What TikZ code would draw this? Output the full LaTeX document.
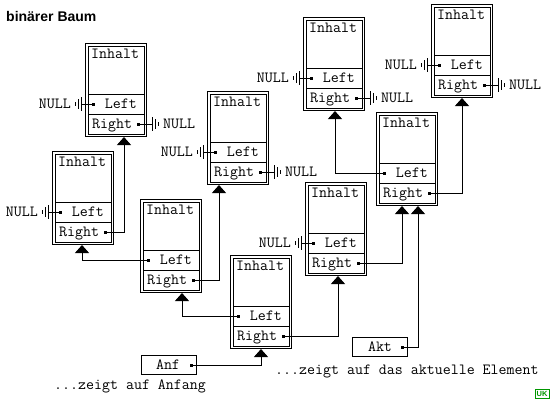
\documentclass[tikz,border=0pt]{standalone}
\usepackage{fontspec}
\setmainfont{Liberation Sans}
\usetikzlibrary{arrows.meta,calc}
\definecolor{ukgreen}{RGB}{0,150,0}
\tikzset{
  rec/.style={draw, double, double distance=1.5pt, line width=1pt,
    minimum width=58.5pt, minimum height=90.5pt, inner sep=0pt, outer sep=1.75pt},
  txt/.style={inner sep=0pt, font=\ttfamily\fontsize{15.5}{17}\selectfont},
  conn/.style={line width=1pt, -{Triangle[width=14pt,length=8pt]}},
  wire/.style={line width=1pt},
  ptrbox/.style={draw, line width=1pt, minimum width=55pt, minimum height=19pt, inner sep=0pt},
}
% record: name, left, top (pixel coordinates, y downwards)
\newcommand\record[3]{%
  \node[rec] (#1) at (#2+31,#3+47) {};
  \draw[wire] (#2+3,#3+51) -- (#2+59,#3+51);
  \draw[wire] (#2+3,#3+71) -- (#2+59,#3+71);
  \node[txt,anchor=base west] (#1-inh) at (#2+6,#3+15) {Inhalt};
  \node[txt,anchor=base east] (#1-lt) at (#2+52,#3+65.5) {Left};
  \node[txt,anchor=base west] (#1-rt) at (#2+7,#3+85.5) {Right};
  \coordinate (#1-l) at (#2+8,#3+61);
  \coordinate (#1-r) at (#2+53,#3+81);
  \fill (#1-l) ++(-1.5,-1.5) rectangle ++(3,3);
  \fill (#1-r) ++(-1.5,-1.5) rectangle ++(3,3);
}
\newcommand\gndL[1]{%
  \coordinate (#1-gl) at ($(#1-l)+(-12,0)$);
  \draw[wire] (#1-l) -- (#1-gl);
  \draw[wire] ($(#1-gl)+(0,-7)$) -- ($(#1-gl)+(0,7)$);
  \draw[wire] ($(#1-gl)+(-3,-5)$) -- ($(#1-gl)+(-3,5)$);
  \draw[wire] ($(#1-gl)+(-6,-2)$) -- ($(#1-gl)+(-6,2)$);
  \node[txt,anchor=base east] (#1-nl) at ($(#1-gl)+(-10,4.5)$) {NULL};
}
\newcommand\gndR[1]{%
  \coordinate (#1-gr) at ($(#1-r)+(14,0)$);
  \draw[wire] (#1-r) -- (#1-gr);
  \draw[wire] ($(#1-gr)+(0,-7)$) -- ($(#1-gr)+(0,7)$);
  \draw[wire] ($(#1-gr)+(3,-5)$) -- ($(#1-gr)+(3,5)$);
  \draw[wire] ($(#1-gr)+(6,-2)$) -- ($(#1-gr)+(6,2)$);
  \node[txt,anchor=base west] (#1-nr) at ($(#1-gr)+(11,4.5)$) {NULL};
}
\begin{document}
\begin{tikzpicture}[x=1pt,y=-1pt]
\useasboundingbox (0,0) rectangle (550,400);
\node[anchor=base west, inner sep=0pt, font=\bfseries\fontsize{14}{16}\selectfont] (title) at (6,21.5) {binärer Baum};

\record{A}{85}{43}
\record{B}{52}{151}
\record{C}{140}{199}
\record{D}{230}{255}
\record{E}{207}{91}
\record{F}{303}{17}
\record{G}{305}{182}
\record{H}{376}{112}
\record{I}{431}{4}

\gndL{A}\gndR{A}
\gndL{B}
\gndL{E}\gndR{E}
\gndL{F}\gndR{F}
\gndL{G}
\gndL{I}\gndR{I}

\draw[conn] (B-r) -| ([xshift=8pt]A.south);
\draw[conn] (C-l) -| ([xshift=-1pt]B.south);
\draw[conn] (C-r) -| ([xshift=-19pt]E.south);
\draw[conn] (D-l) -| ([xshift=11pt]C.south);
\draw[conn] (D-r) -| ([xshift=2pt]G.south);
\draw[conn] (G-r) -| ([xshift=-5pt]H.south);
\draw[conn] (H-l) -| ([xshift=1pt]F.south);
\draw[conn] (H-r) -| (I.south);

\node[ptrbox, anchor=north west] (anf) at (141,355) {};
\node[txt, anchor=base] (anf-t) at (168,369.5) {Anf};
\coordinate (anf-d) at (191,365);
\fill (anf-d) ++(-1.5,-1.5) rectangle ++(3,3);
\draw[conn] (anf-d) -| (D.south);

\node[ptrbox, anchor=north west] (akt) at (352,337) {};
\node[txt, anchor=base] (akt-t) at (380,351.5) {Akt};
\coordinate (akt-d) at (402,347);
\fill (akt-d) ++(-1.5,-1.5) rectangle ++(3,3);
\draw[conn] (akt-d) -| ([xshift=11pt]H.south);

\node[txt, anchor=base west] (capanf) at (54,389) {...zeigt auf Anfang};
\node[txt, anchor=base west] (capakt) at (275,374) {...zeigt auf das aktuelle Element};

\node[draw=ukgreen, line width=1pt, minimum width=14pt, minimum height=9pt, inner sep=0pt,
  text=ukgreen, font=\bfseries\fontsize{7.5}{8}\selectfont] (uk) at (542,394) {UK};
\end{tikzpicture}
\end{document}
